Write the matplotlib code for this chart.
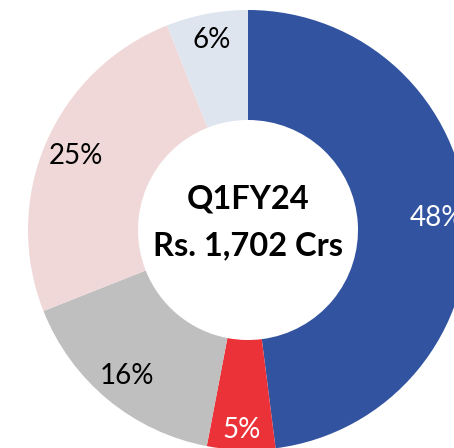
import numpy as np
import matplotlib
matplotlib.use("Agg")
import matplotlib.pyplot as plt

# share of revenue, clockwise from 12 o'clock
shares = [48, 5, 16, 25, 6]
labels = ["48%", "5%", "16%", "25%", "6%"]
colors = ["#3253A0", "#EC3239", "#BFBFBF", "#F0D8D8", "#DEE5EE"]
label_colors = ["white", "white", "black", "black", "black"]
label_dist = [0.86, 0.91, 0.86, 0.85, 0.88]
center_title = "Q1FY24"
center_value = "Rs. 1,702 Crs"

plt.rcParams["font.family"] = ["Lato", "DejaVu Sans"]

W, H = 454, 448
cx, cy, R = 248, 230, 220  # pixel centre and outer radius of the ring

fig = plt.figure(figsize=(W / 100, H / 100), dpi=100)
ax = fig.add_axes([0, 0, 1, 1])

wedges, _ = ax.pie(shares, colors=colors, startangle=90, counterclock=False,
                   radius=1.0, wedgeprops=dict(width=0.5, linewidth=0))

# data labels at the middle of each wedge
cum = np.cumsum([0] + shares[:-1])
total = sum(shares)
for i, s in enumerate(shares):
    mid = cum[i] + s / 2
    ang = np.deg2rad(90 - mid / total * 360)
    d = label_dist[i]
    ax.text(d * np.cos(ang), d * np.sin(ang), labels[i], ha="center", va="center",
            fontsize=20, color=label_colors[i])

ax.text(0, 0.14, center_title, ha="center", va="center", fontsize=23.5,
        fontweight="bold", color="black")
ax.text(0, -0.07, center_value, ha="center", va="center", fontsize=23.5,
        fontweight="bold", color="black")

ax.set_xlim(-cx / R, (W - cx) / R)
ax.set_ylim(-(H - cy) / R, cy / R)
ax.set_aspect("auto")
ax.axis("off")

fig.savefig("out.png", dpi=100)
